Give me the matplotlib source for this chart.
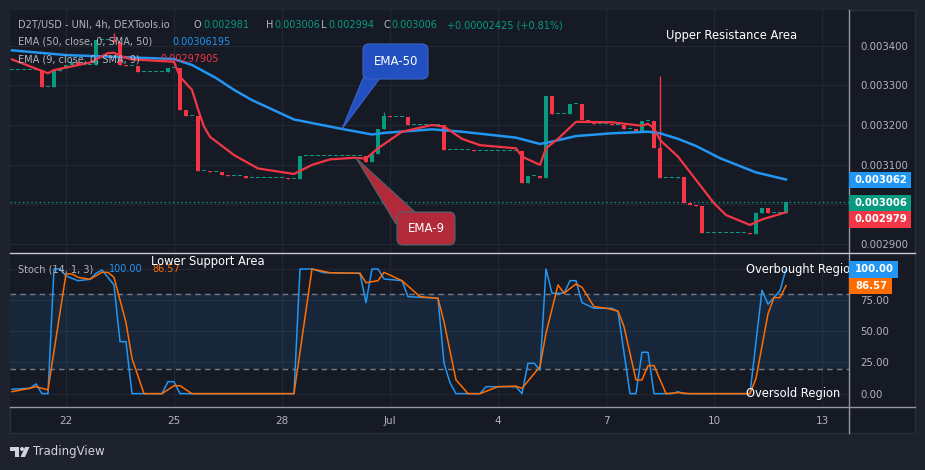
import numpy as np
import matplotlib.pyplot as plt
import matplotlib.transforms as mtransforms
from matplotlib.patches import Rectangle, FancyBboxPatch, Polygon, Circle
from matplotlib.lines import Line2D

W, H = 925, 470

# 4h candles, 20 Jun 12:00 -> 12 Jul 00:00 (close of each candle, open = previous close)
closes = [
    0.003339, 0.003339, 0.003339, 0.003339, 0.003339, 0.003297, 0.003297, 0.003337,
    0.003345, 0.003352, 0.003359, 0.003352, 0.003352, 0.003352, 0.003415, 0.003415,
    0.003415, 0.003410, 0.003352, 0.003350, 0.003350, 0.003335, 0.003335, 0.003335,
    0.003335, 0.003335, 0.003345, 0.003345, 0.003238, 0.003223, 0.003223, 0.003084,
    0.003084, 0.003080, 0.003080, 0.003074, 0.003070, 0.003070, 0.003070, 0.003067,
    0.003067, 0.003067, 0.003067, 0.003067, 0.003067, 0.003067, 0.003063, 0.003063,
    0.003121, 0.003121, 0.003121, 0.003121, 0.003121, 0.003121, 0.003121, 0.003121,
    0.003121, 0.003121, 0.003121, 0.003106, 0.003126, 0.003190, 0.003222, 0.003220,
    0.003220, 0.003220, 0.003201, 0.003201, 0.003201, 0.003201, 0.003201, 0.003201,
    0.003136, 0.003136, 0.003136, 0.003136, 0.003136, 0.003134, 0.003134, 0.003134,
    0.003134, 0.003134, 0.003134, 0.003134, 0.003134, 0.003052, 0.003071, 0.003071,
    0.003066, 0.003274, 0.003227, 0.003227, 0.003227, 0.003253, 0.003253, 0.003212,
    0.003207, 0.003203, 0.003203, 0.003203, 0.003200, 0.003200, 0.003189, 0.003189,
    0.003186, 0.003210, 0.003210, 0.003141, 0.003066, 0.003066, 0.003066, 0.003068,
    0.003002, 0.002998, 0.002994, 0.002927, 0.002927, 0.002927, 0.002927, 0.002927,
    0.002927, 0.002927, 0.002927, 0.002924, 0.002978, 0.002991, 0.002978, 0.002978,
    0.002978, 0.003006,
]
wick_idx = [17, 62, 108, 124]
wick_high = [0.003432, 0.003234, 0.003325, 0.002981]

ema50_idx = [0, 9, 27, 30, 34, 37, 40, 47, 55, 60, 62, 70, 75, 84, 88, 90, 94,
             100, 106, 108, 111, 114, 118, 124, 129]
ema50_val = [0.003389, 0.003377, 0.003367, 0.003352, 0.003319, 0.003289, 0.003263,
             0.003214, 0.003190, 0.003176, 0.003180, 0.003189, 0.003183, 0.003168,
             0.003152, 0.003158, 0.003172, 0.003179, 0.003183, 0.003179, 0.003165,
             0.003147, 0.003116, 0.003080, 0.003062]

ema9_idx = [0, 6, 7, 13, 16, 17, 18, 20, 27, 28, 30, 31, 32, 33, 37, 41, 47, 50,
            53, 57, 59, 61, 65, 70, 72, 75, 78, 84, 85, 88, 89, 91, 94, 100, 105,
            106, 107, 108, 111, 114, 117, 119, 123, 125, 127, 129]
ema9_val = [0.003366, 0.003331, 0.003339, 0.003358, 0.003382, 0.003383, 0.003375,
            0.003366, 0.003360, 0.003322, 0.003289, 0.003240, 0.003196, 0.003170,
            0.003124, 0.003090, 0.003076, 0.003099, 0.003113, 0.003117, 0.003115,
            0.003141, 0.003183, 0.003200, 0.003196, 0.003165, 0.003149, 0.003141,
            0.003120, 0.003099, 0.003141, 0.003165, 0.003208, 0.003207, 0.003198,
            0.003203, 0.003192, 0.003162, 0.003120, 0.003061, 0.003002, 0.002972,
            0.002947, 0.002961, 0.002970, 0.002979]

k_idx = [0, 3, 4, 5, 6, 7, 8, 9, 11, 13, 14, 15, 17, 18, 19, 20, 25, 26, 27, 28,
         47, 48, 50, 52, 58, 59, 60, 61, 62, 65, 66, 71, 72, 73, 74, 78, 79, 84,
         85, 86, 87, 88, 89, 90, 92, 93, 94, 95, 97, 100, 101, 103, 104, 105, 106,
         107, 110, 111, 112, 123, 125, 126, 128, 129]
k_val = [3.5, 4.3, 7.8, 0, 0, 100, 100, 94.4, 90.6, 91.7, 96.5, 99.2, 87.2, 41.7,
         41.7, 0, 0, 9.6, 9.6, 0, 0, 100, 100, 97, 96.5, 73, 100, 100, 92, 90.6,
         77.8, 76.5, 24.4, 8.8, 0, 0, 5.6, 5.6, 0, 24.4, 24.4, 19, 100, 80.5, 80.5,
         90.6, 90.6, 73, 68.5, 68.5, 65.8, 0, 0, 33.2, 33.2, 0, 0, 1.6, 0, 0, 83,
         71.7, 82.6, 100]

d_idx = [0, 3, 4, 6, 9, 10, 11, 13, 15, 16, 17, 19, 20, 22, 25, 26, 27, 28, 29, 30,
         47, 50, 53, 58, 59, 61, 62, 65, 68, 71, 72, 74, 75, 76, 78, 81, 84, 85, 88,
         89, 91, 92, 94, 95, 97, 99, 101, 102, 104, 105, 106, 107, 109, 111, 113,
         123, 124, 126, 127, 128, 129]
d_val = [1.6, 4.3, 5.6, 3, 96, 96, 93.3, 91.7, 97.3, 97.3, 93.3, 57, 28.4, 0, 0,
         3.2, 6.4, 6.4, 3.2, 0, 0, 100, 97, 96.5, 89, 90.6, 97.3, 90.6, 77.8, 76.5,
         57.7, 11, 5.6, 0, 0, 5.6, 6, 4.3, 21.7, 48.4, 87.2, 80.5, 88, 85.3, 69.8,
         68.5, 66.3, 53.7, 11, 11, 22.5, 22.5, 0, 0.8, 0, 0, 12.3, 64, 77, 77, 86.6]

date_ticks = [9, 27, 45, 63, 81, 99, 117, 135]
date_labels = ['22', '25', '28', 'Jul', '4', '7', '10', '13']
price_ticks = [0.0029, 0.0030, 0.0031, 0.0032, 0.0033, 0.0034]
stoch_ticks = [0, 25, 50, 75, 100]

BG = '#161a25'
GRID = '#232734'
TXT = '#b2b5be'
GREEN = '#089981'
RED = '#f23645'
BLUE = '#2196f3'
ORANGE = '#ff6d00'

fig = plt.figure(figsize=(W / 100, H / 100), dpi=100)
fig.patch.set_facecolor('#1e222d')
PX = mtransforms.Affine2D().scale(1 / W, -1 / H).translate(0, 1) + fig.transFigure


def ftext(X, Y, s, **kw):
    kw.setdefault('va', 'center')
    kw.setdefault('fontsize', 7)
    return fig.text(X / W, 1 - Y / H, s, **kw)


fig.add_artist(Rectangle((10, 10), 905, 423, transform=PX, facecolor=BG,
                         edgecolor='#2a2e39', lw=1, zorder=-1))

ax_p = fig.add_axes([10 / W, 1 - 253 / H, 839 / W, 243 / H])
ax_s = fig.add_axes([10 / W, 1 - 407 / H, 839 / W, 154 / H])
for ax in (ax_p, ax_s):
    ax.set_facecolor(BG)
    for sp in ax.spines.values():
        sp.set_visible(False)
    ax.set_xlim(-0.33, 139.5)
    ax.set_xticks(date_ticks)
    ax.yaxis.tick_right()
    ax.grid(True, color=GRID, lw=0.9)
    ax.set_axisbelow(True)
    ax.tick_params(axis='y', length=0, pad=8, labelsize=7.3, labelcolor=TXT)

# price panel
ax_p.set_ylim(0.002876, 0.0034911)
ax_p.set_yticks(price_ticks)
ax_p.set_yticklabels(['0.002900', '', '0.003100', '0.003200', '0.003300', '0.003400'])
ax_p.tick_params(axis='x', length=0, labelbottom=False)

c = np.array(closes)
idx = np.arange(len(c))
o = np.concatenate([[c[0]], c[:-1]])
top = np.maximum(o, c)
bot = np.minimum(o, c)
hi = top.copy()
hi[wick_idx] = wick_high
col = np.where(c >= o, GREEN, RED)
ax_p.vlines(idx, bot, hi, colors=col, lw=1, zorder=3)
ax_p.bar(idx, np.maximum(top - bot, 2.6e-6), bottom=bot, width=0.78,
         color=col, lw=0, zorder=3)

ax_p.plot(ema50_idx, ema50_val, color=BLUE, lw=1.8, zorder=4)
ax_p.plot(ema9_idx, ema9_val, color=RED, lw=1.6, zorder=4)
ax_p.axhline(closes[-1], color=GREEN, lw=1, ls=(0, (1, 2)), zorder=2)

# stochastic panel
ax_s.set_ylim(-10.7, 112.8)
ax_s.set_yticks(stoch_ticks)
ax_s.set_yticklabels(['0.00', '25.00', '50.00', '75.00', ''])
ax_s.set_xticklabels(date_labels)
ax_s.tick_params(axis='x', length=0, pad=6.5, labelsize=7.5, labelcolor=TXT)
ax_s.axhspan(20, 80, color=BLUE, alpha=0.1, lw=0, zorder=1)
for lvl in (20, 80):
    ax_s.axhline(lvl, color='#787b86', lw=1, ls=(0, (4, 3)), zorder=2)
ax_s.plot(k_idx, k_val, color=BLUE, lw=1.1, zorder=4)
ax_s.plot(d_idx, d_val, color=ORANGE, lw=1.1, zorder=4)

# separators
fig.add_artist(Line2D([849, 849], [10, 433], transform=PX, color='#9598a1', lw=1, zorder=6))
fig.add_artist(Line2D([10, 915], [253, 253], transform=PX, color='#c8cad0', lw=1, zorder=6))
fig.add_artist(Line2D([10, 915], [407, 407], transform=PX, color='#9598a1', lw=1, zorder=6))

# legends
ftext(18, 25, 'D2T/USD - UNI, 4h, DEXTools.io', color=TXT)
for X, s, cc in [(194, 'O', TXT), (203, '0.002981', GREEN), (266, 'H', TXT),
                 (274, '0.003006', GREEN), (321, 'L', TXT), (328, '0.002994', GREEN),
                 (383, 'C', TXT), (391, '0.003006', GREEN),
                 (447, '+0.00002425 (+0.81%)', GREEN)]:
    ftext(X, 25, s, color=cc)
ftext(18, 42, 'EMA (50, close, 0, SMA, 50)', color=TXT)
ftext(172, 42, '0.00306195', color=BLUE)
ftext(18, 59, 'EMA (9, close, 0, SMA, 9)', color=TXT)
ftext(160, 59, '0.00297905', color=RED)
ftext(18, 269, 'Stoch (14, 1, 3)', color=TXT)
ftext(109, 269, '100.00', color=BLUE)
ftext(152, 269, '86.57', color=ORANGE)

# value tags on the scale
for X0, Y0, w, h, s, cc in [(849, 172, 62, 16, '0.003062', BLUE),
                            (849, 195, 62, 16, '0.003006', GREEN),
                            (849, 211, 62, 17, '0.002979', RED),
                            (849, 261, 49, 17, '100.00', BLUE),
                            (849, 278, 43, 16, '86.57', ORANGE)]:
    fig.add_artist(Rectangle((X0, Y0), w, h, transform=PX, facecolor=cc, lw=0, zorder=7))
    ftext(X0 + w / 2 + 1, Y0 + h / 2, s, color='white', fontsize=7.3,
          fontweight='bold', ha='center', zorder=8)

# annotations
ftext(732, 35, 'Upper Resistance Area', color='white', fontsize=8.3, ha='center', zorder=8)
ftext(208, 262, 'Lower Support Area', color='white', fontsize=8.3, ha='center', zorder=8)
for Y, s in [(269, 'Overbought Region'), (393, 'Oversold Region')]:
    t = ax_s.text(746, Y, s, transform=PX, color='white', fontsize=8.3,
                  va='center', zorder=8, clip_on=True)
    t.set_clip_path(ax_s.patch)

# callout bubbles
fig.add_artist(Polygon([(364, 76), (380, 78), (342, 129)], transform=PX,
                       facecolor='#2350c0', edgecolor='#3a63c8', lw=0.8, zorder=6))
fig.add_artist(FancyBboxPatch((363, 44), 65, 35, transform=PX,
                              boxstyle='round,pad=0,rounding_size=6',
                              facecolor='#2350c0', edgecolor='#3a63c8', lw=0.8, zorder=6))
ftext(396, 61.5, 'EMA-50', color='white', fontsize=8.5, ha='center', zorder=8)

fig.add_artist(Polygon([(396, 224), (416, 213), (356, 158)], transform=PX,
                       facecolor='#b22a3a', edgecolor='#4a6670', lw=0.8, zorder=6))
fig.add_artist(FancyBboxPatch((397, 212), 58, 33, transform=PX,
                              boxstyle='round,pad=0,rounding_size=6',
                              facecolor='#b22a3a', edgecolor='#4a6670', lw=0.8, zorder=6))
ftext(426, 229, 'EMA-9', color='white', fontsize=8.5, ha='center', zorder=8)

# TradingView mark
LOGO = '#d1d4dc'
fig.add_artist(Rectangle((10, 447), 9, 4, transform=PX, facecolor=LOGO, lw=0))
fig.add_artist(Rectangle((14.5, 447), 4.5, 10, transform=PX, facecolor=LOGO, lw=0))
fig.add_artist(Circle((22, 449), 2, transform=PX, facecolor=LOGO, lw=0))
fig.add_artist(Polygon([(20.5, 457), (25, 457), (29.5, 447), (25, 447)], transform=PX,
                       facecolor=LOGO, lw=0))
ftext(33, 452, 'TradingView', color=LOGO, fontsize=8.5)

fig.savefig('out.png', dpi=100, facecolor=fig.get_facecolor())
